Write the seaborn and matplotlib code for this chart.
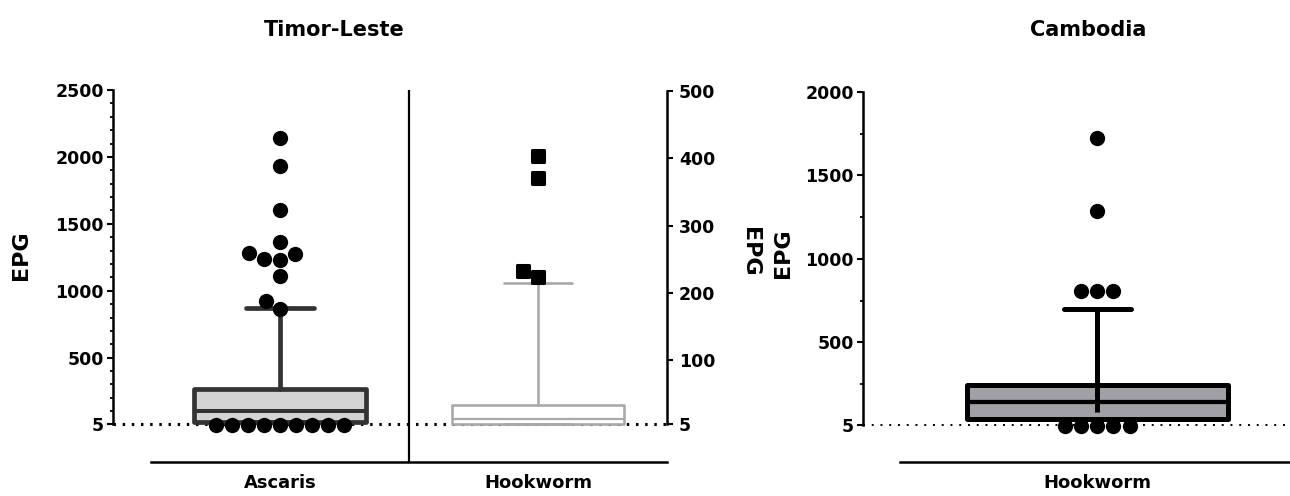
import matplotlib
matplotlib.use("Agg")
import matplotlib.pyplot as plt
import seaborn as sns
import pandas as pd

# ---------------- data ----------------
timor_categories = ["Ascaris", "Hookworm"]
cambodia_categories = ["Hookworm"]

ascaris_points = [2140, 1930, 1600, 1365, 1285, 1237, 1275, 1230, 1110, 926, 866,
                  0, 0, 0, 0, 0, 0, 0, 0, 0]
hookworm_tl_points = [404, 370, 223, 233]
cambodia_points = [1722, 1289, 810, 810, 810, 0, 0, 0, 0, 0]

# box stats: q1, median, q3, upper whisker
ascaris_box = [20, 100, 265, 872]
hookworm_tl_box = [5, 12, 33, 215]
cambodia_box = [41, 140, 245, 698]
cambodia_whisker_low = 85

timor_left_ticks = [5, 500, 1000, 1500, 2000, 2500]
timor_left_minor = [100, 200, 300, 400, 600, 700, 800, 900, 1100, 1200, 1300, 1400,
                    1600, 1700, 1800, 1900, 2100, 2200, 2300, 2400]
timor_right_ticks = [5, 100, 200, 300, 400, 500]
cambodia_ticks = [5, 500, 1000, 1500, 2000]
cambodia_minor = [250, 750, 1250, 1750]

# ---------------- style ----------------
sns.set_style("white")
plt.rcParams["font.family"] = ["DejaVu Sans"]
plt.rcParams["font.weight"] = "bold"
plt.rcParams["axes.labelweight"] = "bold"
plt.rcParams["text.color"] = "black"
plt.rcParams["axes.labelcolor"] = "black"
plt.rcParams["xtick.color"] = "black"
plt.rcParams["ytick.color"] = "black"

fig = plt.figure(figsize=(12.9, 4.96), dpi=100)
W, H = 1290, 496

def px_axes(x0, y0, x1, y1):
    return fig.add_axes([x0 / W, 1 - y1 / H, (x1 - x0) / W, (y1 - y0) / H])

ax = px_axes(113, 90, 667, 462)
ax2 = ax.twinx()
axc = px_axes(863, 92, 1290, 462)


def stats(vals, label, low=None):
    q1, med, q3, hi = vals
    return dict(label=label, q1=q1, med=med, q3=q3,
                whislo=q1 if low is None else low, whishi=hi, fliers=[])


def draw_box(a, vals, label, pos, width, capw, face, edge, lw):
    a.bxp([stats(vals, label)], positions=[pos], widths=width, capwidths=capw,
          patch_artist=True, showfliers=False, manage_ticks=False, zorder=2,
          boxprops=dict(facecolor=face, edgecolor=edge, linewidth=lw, joinstyle="round"),
          whiskerprops=dict(color=edge, linewidth=lw),
          capprops=dict(color=edge, linewidth=lw),
          medianprops=dict(color=edge, linewidth=lw * 0.85))


# ---------------- Timor-Leste ----------------
draw_box(ax, ascaris_box, "Ascaris", 0, 0.664, 0.266, "#d4d4d4", "#333333", 3.4)
draw_box(ax2, hookworm_tl_box, "Hookworm", 1, 0.664, 0.266, "white", "#a9a9a9", 1.9)

df_a = pd.DataFrame({"cat": ["Ascaris"] * len(ascaris_points), "epg": ascaris_points})
sns.swarmplot(data=df_a, x="cat", y="epg", order=timor_categories, ax=ax,
              color="black", size=11, zorder=3)
df_h = pd.DataFrame({"cat": ["Hookworm"] * len(hookworm_tl_points), "epg": hookworm_tl_points})
sns.swarmplot(data=df_h, x="cat", y="epg", order=timor_categories, ax=ax2,
              color="black", size=9, marker="s", linewidth=2.2, edgecolor="black",
              zorder=3)

ax.set_xlim(-0.647, 1.5)
ax.set_ylim(-279, 2500)
ax2.set_ylim(-51.5, 501.5)

ax.axhline(5, color="black", lw=2.2, linestyle=(0, (0.8, 2.2)), zorder=1)
ax.axvline(0.5, color="black", lw=1.6, zorder=1)

for s in ["top", "right"]:
    ax.spines[s].set_visible(False)
for s in ["top", "left", "bottom"]:
    ax2.spines[s].set_visible(False)
ax.spines["left"].set_bounds(5, 2500)
ax.spines["bottom"].set_bounds(-0.5, 1.5)
ax2.spines["right"].set_bounds(5, 500)
for sp in [ax.spines["left"], ax.spines["bottom"], ax2.spines["right"]]:
    sp.set_linewidth(1.8)
    sp.set_color("black")

ax.set_yticks(timor_left_ticks)
ax.set_yticklabels([str(t) for t in timor_left_ticks])
ax.set_yticks(timor_left_minor, minor=True)
ax2.set_yticks(timor_right_ticks)
ax2.set_yticklabels([str(t) for t in timor_right_ticks])
ax.set_xticks([0, 1])
ax.set_xticklabels(timor_categories)
ax.tick_params(axis="y", which="major", left=True, length=4.5, width=1.5, pad=2,
               labelsize=12.5, colors="black")
ax.tick_params(axis="y", which="minor", left=True, length=2.2, width=1.3, colors="black")
ax.tick_params(axis="x", length=0, pad=9, labelsize=13, colors="black")
ax2.tick_params(axis="y", right=True, length=4.5, width=1.5, pad=4,
                labelsize=12.5, colors="black")
ax.set_xlabel("")
ax.set_ylabel("")
ax2.set_ylabel("")
ax2.set_xlabel("")

# ---------------- Cambodia ----------------
draw_box(axc, cambodia_box, "Hookworm", 0, 1.0, 0.257, "#a0a0a6", "black", 3.6)
axc.vlines(0, cambodia_whisker_low, cambodia_box[2], color="black", lw=3.6, zorder=2)
df_c = pd.DataFrame({"cat": ["Hookworm"] * len(cambodia_points), "epg": cambodia_points})
sns.swarmplot(data=df_c, x="cat", y="epg", order=cambodia_categories, ax=axc,
              color="black", size=11, zorder=3)

axc.set_xlim(-0.898, 0.7375)
axc.set_ylim(-216.7, 2000)
axc.axhline(5, color="black", lw=1.4, linestyle=(0, (1, 3.5)), zorder=1)
for s in ["top", "right"]:
    axc.spines[s].set_visible(False)
axc.spines["left"].set_bounds(5, 2000)
axc.spines["bottom"].set_bounds(-0.757, 0.7375)
for s in ["left", "bottom"]:
    axc.spines[s].set_linewidth(1.8)
    axc.spines[s].set_color("black")
axc.set_yticks(cambodia_ticks)
axc.set_yticklabels([str(t) for t in cambodia_ticks])
axc.set_yticks(cambodia_minor, minor=True)
axc.set_xticks([0])
axc.set_xticklabels(cambodia_categories)
axc.tick_params(axis="y", which="major", left=True, length=4.5, width=1.5, pad=2,
                labelsize=12.5, colors="black")
axc.tick_params(axis="y", which="minor", left=True, length=2.2, width=1.3, colors="black")
axc.tick_params(axis="x", length=0, pad=9, labelsize=13, colors="black")
axc.set_xlabel("")
axc.set_ylabel("")

# ---------------- labels ----------------
fig.text(21 / W, 1 - 255 / H, "EPG", rotation=90, ha="center", va="center",
         fontsize=16, color="black")
fig.text(750 / W, 1 - 252 / H, "EPG", rotation=270, ha="center", va="center",
         fontsize=16, color="black")
fig.text(783 / W, 1 - 253 / H, "EPG", rotation=90, ha="center", va="center",
         fontsize=16, color="black")
fig.text(334 / W, 1 - 30 / H, "Timor-Leste", ha="center", va="center",
         fontsize=15, color="black")
fig.text(1088 / W, 1 - 30 / H, "Cambodia", ha="center", va="center",
         fontsize=15, color="black")

fig.savefig("out.png", dpi=100)
